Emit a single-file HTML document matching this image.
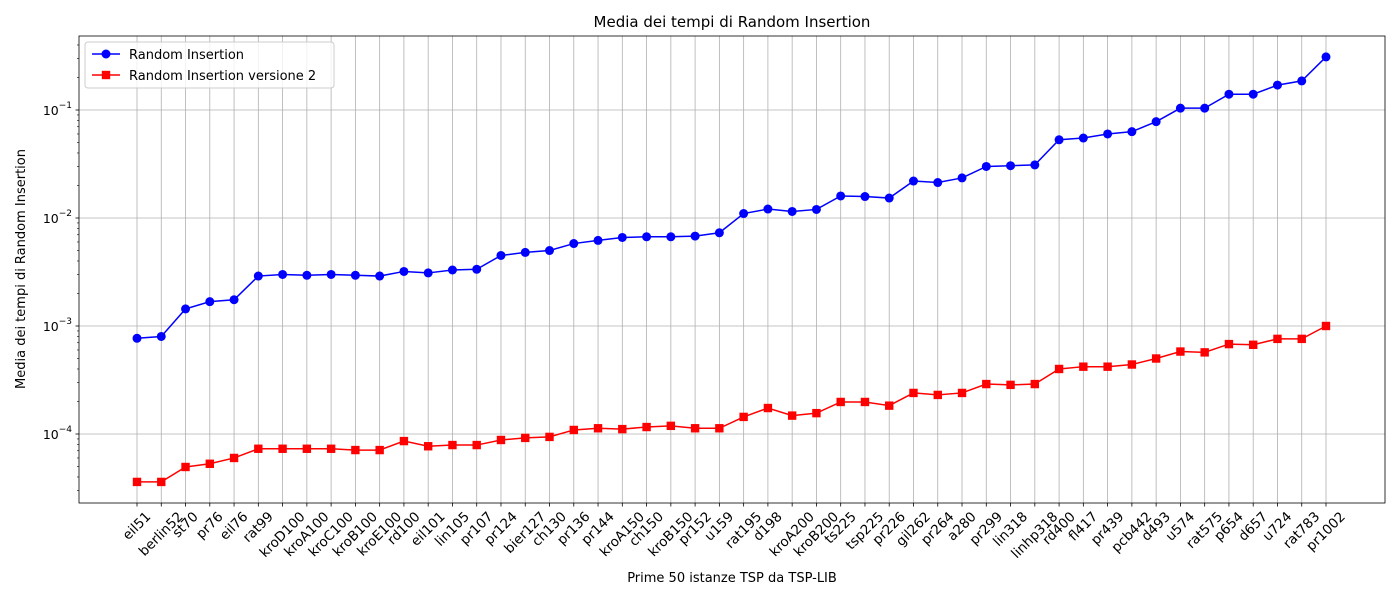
<!DOCTYPE html>
<html><head><meta charset="utf-8">
<style>
body{margin:0;background:#fff;font-family:"Liberation Sans","DejaVu Sans",sans-serif;}
svg text{font-family:"DejaVu Sans","Liberation Sans",sans-serif;}
</style></head>
<body>
<svg id="chart" width="1400" height="600" xmlns="http://www.w3.org/2000/svg"></svg>
<script>
const categories=["eil51","berlin52","st70","pr76","eil76","rat99","kroD100","kroA100","kroC100","kroB100","kroE100","rd100","eil101","lin105","pr107","pr124","bier127","ch130","pr136","pr144","kroA150","ch150","kroB150","pr152","u159","rat195","d198","kroA200","kroB200","ts225","tsp225","pr226","gil262","pr264","a280","pr299","lin318","linhp318","rd400","fl417","pr439","pcb442","d493","u574","rat575","p654","d657","u724","rat783","pr1002"];
const seriesA=[7.7e-4,8.0e-4,1.44e-3,1.68e-3,1.75e-3,2.9e-3,3.0e-3,2.95e-3,3.0e-3,2.95e-3,2.9e-3,3.2e-3,3.1e-3,3.3e-3,3.35e-3,4.5e-3,4.8e-3,5.0e-3,5.8e-3,6.2e-3,6.6e-3,6.7e-3,6.7e-3,6.8e-3,7.3e-3,1.1e-2,1.21e-2,1.15e-2,1.2e-2,1.6e-2,1.58e-2,1.53e-2,2.2e-2,2.13e-2,2.35e-2,3.0e-2,3.05e-2,3.1e-2,5.3e-2,5.5e-2,6.0e-2,6.3e-2,7.8e-2,0.104,0.104,0.14,0.14,0.17,0.186,0.31];
const seriesB=[3.6e-5,3.6e-5,4.95e-5,5.3e-5,6.0e-5,7.3e-5,7.3e-5,7.3e-5,7.3e-5,7.1e-5,7.1e-5,8.6e-5,7.7e-5,7.9e-5,7.9e-5,8.8e-5,9.2e-5,9.4e-5,1.09e-4,1.13e-4,1.11e-4,1.16e-4,1.19e-4,1.13e-4,1.13e-4,1.44e-4,1.74e-4,1.48e-4,1.56e-4,1.98e-4,1.98e-4,1.83e-4,2.4e-4,2.3e-4,2.4e-4,2.9e-4,2.85e-4,2.9e-4,4.0e-4,4.2e-4,4.2e-4,4.4e-4,5.0e-4,5.8e-4,5.7e-4,6.8e-4,6.7e-4,7.6e-4,7.6e-4,1.0e-3];
const yTickExps=[-4,-3,-2,-1];

const NS="http://www.w3.org/2000/svg";
const svg=document.getElementById('chart');
const L=79,R=1385,T=36,B=503;
const x0=137,x1=1326;
function xs(i){return x0+(x1-x0)*i/(categories.length-1);}
function ys(v){return 110+(-1-Math.log10(v))*108;}
function mk(tag,attrs,parent){const e=document.createElementNS(NS,tag);for(const k in attrs)e.setAttribute(k,attrs[k]);(parent||svg).appendChild(e);return e;}

const grid=mk('g',{});


categories.forEach((c,i)=>{mk('line',{x1:xs(i),x2:xs(i),y1:T,y2:B,stroke:'#b0b0b0','stroke-width':0.8},grid);});
yTickExps.forEach(e=>{const y=ys(Math.pow(10,e));mk('line',{x1:L,x2:R,y1:y,y2:y,stroke:'#b0b0b0','stroke-width':0.8},grid);});

const frame=mk('rect',{x:L,y:T,width:R-L,height:B-T,fill:'none',stroke:'#000','stroke-width':0.8});



const yaxis=mk('g',{});


for(let e=-5;e<=0;e++){for(let m=1;m<10;m++){const v=m*Math.pow(10,e);const y=ys(v);if(y<T||y>B)continue;
 if(m===1){mk('line',{x1:L-3.5,x2:L,y1:y,y2:y,stroke:'#000','stroke-width':0.8},yaxis);
  const t=mk('text',{x:L-7,y:y+5,'text-anchor':'end','font-size':12.5},yaxis);
  t.textContent='10';const s=mk('tspan',{dy:-7,'font-size':9},t);s.textContent='\u2212'+(-e);}
 else mk('line',{x1:L-2,x2:L,y1:y,y2:y,stroke:'#000','stroke-width':0.6},yaxis);}}

const xaxis=mk('g',{});


const FS=13.5;
categories.forEach((c,i)=>{const x=xs(i);mk('line',{x1:x,x2:x,y1:B,y2:B+3.5,stroke:'#000','stroke-width':0.8},xaxis);
 const t=mk('text',{x:0,y:0,'text-anchor':'middle','dominant-baseline':'central','font-size':FS},xaxis);
 t.textContent=c;
 
 
 const w=t.getComputedTextLength();
 const bh=(w+FS*0.95)*0.7071;
 const cy=B+7+bh/2;
 t.setAttribute('x',x);t.setAttribute('y',cy);
 t.setAttribute('transform',`rotate(-45 ${x} ${cy})`);});

function drawSeries(vals,color,marker,name){
 const g=mk('g',{});
 
 
 mk('polyline',{points:vals.map((v,i)=>xs(i)+','+ys(v)).join(' '),fill:'none',stroke:color,'stroke-width':1.5},g);
 vals.forEach((v,i)=>{let m;
  if(marker==='o')m=mk('circle',{cx:xs(i),cy:ys(v),r:4.5,fill:color},g);
  else m=mk('rect',{x:xs(i)-4.2,y:ys(v)-4.2,width:8.4,height:8.4,fill:color},g);
  
  });
}
drawSeries(seriesA,'#0000ff','o','series-random-insertion');
drawSeries(seriesB,'#ff0000','s','series-random-insertion-v2');

function txt(s,a,name){const t=mk('text',a);t.textContent=s;return t;}
txt('Media dei tempi di Random Insertion',{x:(L+R)/2,y:27,'text-anchor':'middle','font-size':15},'chart-title');
txt('Prime 50 istanze TSP da TSP-LIB',{x:(L+R)/2,y:582,'text-anchor':'middle','font-size':13},'x-axis-title');
txt('Media dei tempi di Random Insertion',{x:25,y:269,'text-anchor':'middle','font-size':13,transform:'rotate(-90 25 269)'},'y-axis-title');

const lg=mk('g',{});


mk('rect',{x:85,y:42,width:249,height:46,rx:3,fill:'#fff','fill-opacity':0.8,stroke:'#ccc'},lg);
mk('line',{x1:92,x2:120,y1:54,y2:54,stroke:'#0000ff','stroke-width':1.5},lg);
mk('circle',{cx:106,cy:54,r:4.5,fill:'#0000ff'},lg);
const l1=mk('text',{x:129,y:59,'font-size':13},lg);l1.textContent='Random Insertion';


mk('line',{x1:92,x2:120,y1:75,y2:75,stroke:'#ff0000','stroke-width':1.5},lg);
mk('rect',{x:101.8,y:70.8,width:8.4,height:8.4,fill:'#ff0000'},lg);
const l2=mk('text',{x:129,y:80,'font-size':13},lg);l2.textContent='Random Insertion versione 2';


</script>
</body></html>
